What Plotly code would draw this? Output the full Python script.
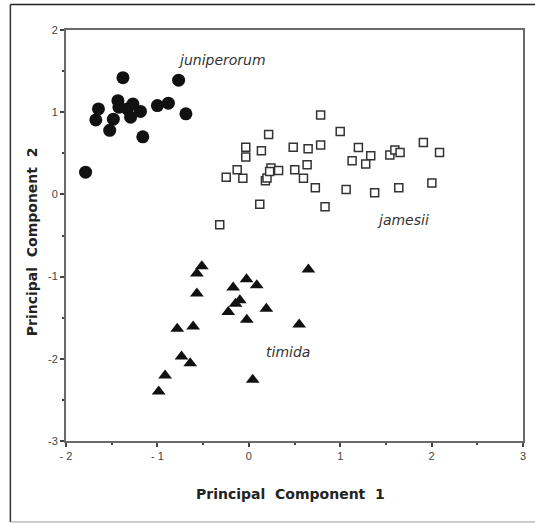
import plotly.graph_objects as go

# juniperorum (filled circles)
jun_x = [-1.786, -1.674, -1.645, -1.522, -1.482, -1.377, -1.432, -1.421, -1.329,
         -1.293, -1.268, -1.185, -1.160, -1.000, -0.880, -0.768, -0.688]
jun_y = [0.27, 0.906, 1.04, 0.78, 0.915, 1.42, 1.14, 1.06, 1.04,
         0.94, 1.10, 1.01, 0.70, 1.08, 1.11, 1.39, 0.98]

# jamesii (open squares)
jam_x = [0.786, 1.000, 0.217, -0.033, -0.033, 0.138, 0.486, 0.649, 0.786, 1.199,
         1.334, 1.130, 1.279, 1.543, 1.598, 1.655, 1.910, 2.087, 2.003, 1.641,
         1.377, 1.065, 0.728, 0.834, 0.120, -0.318, -0.247, -0.127, -0.065, 0.182,
         0.199, 0.242, 0.326, 0.503, 0.638, 0.598, 0.228]
jam_y = [0.965, 0.766, 0.73, 0.575, 0.454, 0.53, 0.575, 0.555, 0.60, 0.57,
         0.47, 0.41, 0.37, 0.48, 0.54, 0.51, 0.63, 0.51, 0.14, 0.08,
         0.02, 0.06, 0.08, -0.15, -0.12, -0.37, 0.21, 0.30, 0.195, 0.165,
         0.20, 0.32, 0.29, 0.30, 0.36, 0.195, 0.28]

# timida (filled triangles)
tim_x = [-0.514, -0.568, -0.568, 0.652, -0.025, 0.087, -0.171, -0.098, -0.145, -0.225,
         0.192, -0.022, 0.551, -0.783, -0.609, -0.736, -0.641, -0.916, -0.986, 0.043]
tim_y = [-0.874, -0.963, -1.207, -0.915, -1.033, -1.106, -1.134, -1.289, -1.329, -1.432,
         -1.390, -1.524, -1.582, -1.634, -1.606, -1.972, -2.054, -2.204, -2.399, -2.256]

x_tickvals = [-2, -1, 0, 1, 2, 3]
x_ticktext = ["- 2", "- 1", "0", "1", "2", "3"]
y_tickvals = [-3, -2, -1, 0, 1, 2]
y_ticktext = ["-3", "-2", "-1", "0", "1", "2"]

group_labels = ["juniperorum", "jamesii", "timida"]
label_x = [-0.29, 1.685, 0.426]
label_y = [1.64, -0.313, -1.92]

x_title = "Principal\u00a0\u00a0Component\u00a0\u00a01"
y_title = "Principal\u00a0\u00a0Component\u00a0\u00a02"

fig = go.Figure()
fig.add_trace(go.Scatter(x=jun_x, y=jun_y, mode="markers", name="juniperorum",
                         marker=dict(symbol="circle", size=13, color="#111111",
                                     line=dict(width=0))))
fig.add_trace(go.Scatter(x=jam_x, y=jam_y, mode="markers", name="jamesii",
                         marker=dict(symbol="square", size=8, color="white",
                                     line=dict(width=1.5, color="#333333"))))
fig.add_trace(go.Scatter(x=tim_x, y=tim_y, mode="markers", name="timida",
                         marker=dict(symbol="triangle-up", size=12, color="#111111",
                                     line=dict(width=0))))

for t, lx, ly in zip(group_labels, label_x, label_y):
    fig.add_annotation(x=lx, y=ly, text=t, showarrow=False,
                       font=dict(family="DejaVu Sans", size=14, color="#333333",
                                 style="italic"),
                       xanchor="center", yanchor="middle")

fig.add_annotation(xref="paper", yref="paper", x=0.491, y=-0.128, text=x_title,
                   showarrow=False, xanchor="center", yanchor="middle",
                   font=dict(family="DejaVu Sans", size=14, color="#222222", weight="bold"))
fig.add_annotation(xref="paper", yref="paper", x=-0.074, y=0.484, text=y_title,
                   showarrow=False, xanchor="center", yanchor="middle", textangle=-90,
                   font=dict(family="DejaVu Sans", size=14, color="#222222", weight="bold"))

# outer frame (left, top, bottom)
fig.add_shape(type="line", xref="paper", yref="paper", x0=-0.1217, x1=-0.1217,
              y0=-0.197, y1=1.062, line=dict(color="#333333", width=1.5))
fig.add_shape(type="line", xref="paper", yref="paper", x0=-0.1217, x1=1.03,
              y0=1.062, y1=1.062, line=dict(color="#222222", width=1.5))
fig.add_shape(type="line", xref="paper", yref="paper", x0=-0.1217, x1=1.03,
              y0=-0.197, y1=-0.197, line=dict(color="#999999", width=1))

axis_common = dict(showgrid=False, zeroline=False, showline=True, linecolor="#6a6a6a",
                   linewidth=2, mirror=True, ticks="outside", ticklen=4, tickwidth=1.5,
                   tickcolor="#444444",
                   tickfont=dict(family="Liberation Sans", size=11, color="#444444"),
                   minor=dict(ticks="outside", dtick=0.5, ticklen=2, tickwidth=1.5,
                              tickcolor="#444444"))

fig.update_xaxes(range=[-2, 3], tickmode="array", tickvals=x_tickvals,
                 ticktext=x_ticktext, **axis_common)
fig.update_yaxes(range=[-3, 2], tickmode="array", tickvals=y_tickvals,
                 ticktext=y_ticktext, **axis_common)

fig.update_layout(width=535, height=523, margin=dict(l=66, r=9, t=30, b=82),
                  paper_bgcolor="white", plot_bgcolor="white", showlegend=False)

fig.write_html("out.html", config={"displayModeBar": False},
               post_script="document.body.style.margin='0';")
